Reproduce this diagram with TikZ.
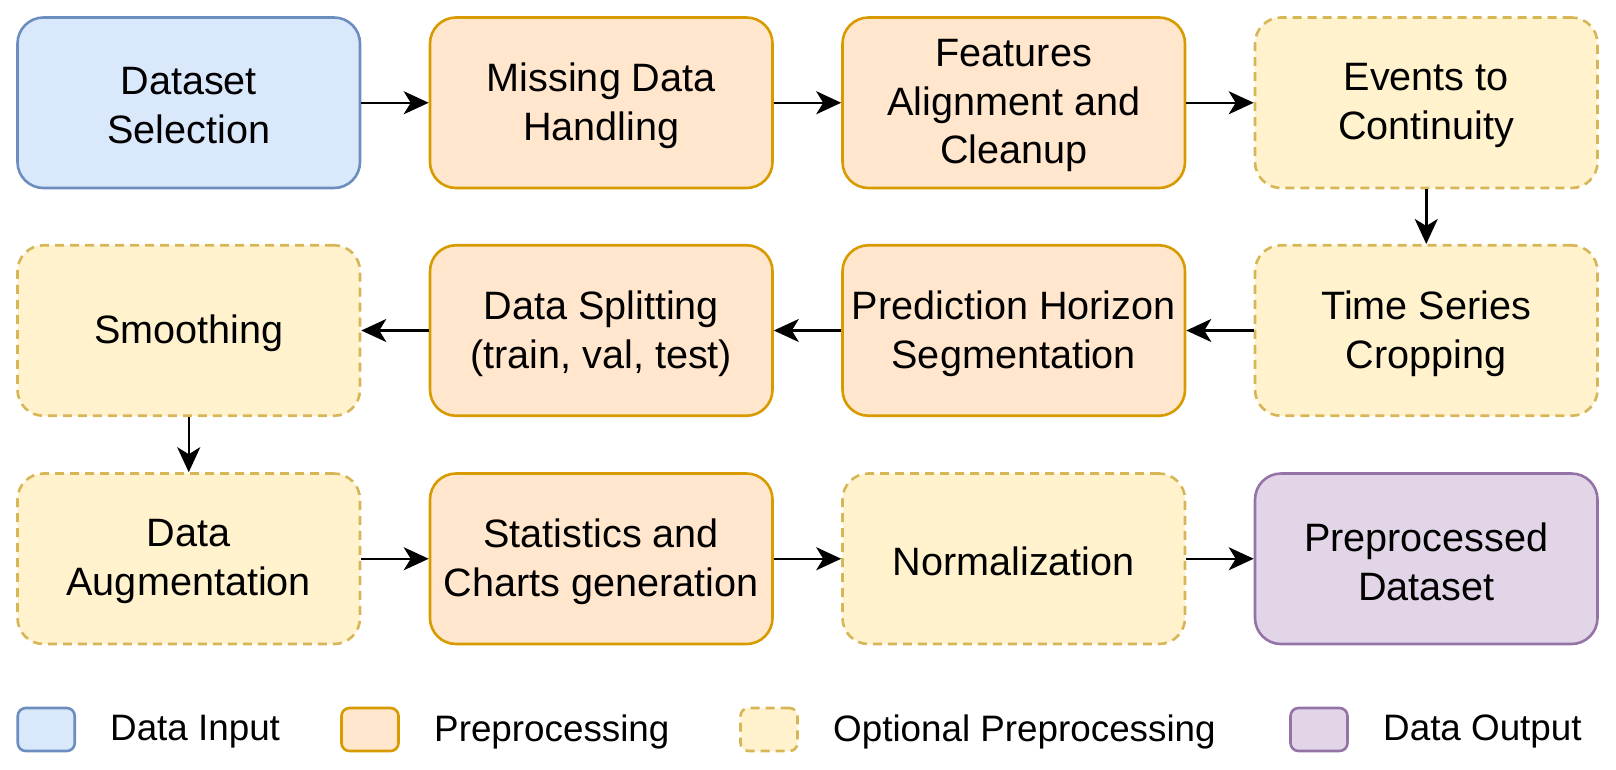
\documentclass[tikz,border=0pt]{standalone}
\usepackage{fontspec}
\setmainfont{Liberation Sans}
\usetikzlibrary{arrows.meta}
\definecolor{blueF}{HTML}{DAE8FC}\definecolor{blueD}{HTML}{6C8EBF}
\definecolor{orF}{HTML}{FFE6CC}\definecolor{orD}{HTML}{D79B00}
\definecolor{yeF}{HTML}{FFF2CC}\definecolor{yeD}{HTML}{D6B656}
\definecolor{puF}{HTML}{E1D5E7}\definecolor{puD}{HTML}{9673A6}
\tikzset{
  box/.style={rectangle, rounded corners=26pt, line width=2.6pt, minimum width=342.5pt, minimum height=170.5pt, inner sep=0pt},
  txt/.style={inner sep=0pt, align=center, font=\fontsize{39.6}{48.7}\selectfont},
  inbox/.style={box, fill=blueF, draw=blueD},
  prebox/.style={box, fill=orF, draw=orD},
  optbox/.style={box, fill=yeF, draw=yeD, dash pattern=on 9pt off 6pt},
  outbox/.style={box, fill=puF, draw=puD},
  legbox/.style={rectangle, rounded corners=8pt, line width=2.6pt, minimum width=57pt, minimum height=43pt, inner sep=0pt},
  legtext/.style={anchor=west, inner sep=0pt, font=\fontsize{36.8}{44}\selectfont},
  flow/.style={line width=2.5pt, -{Stealth[length=25pt, width=23pt, inset=7pt]}}
}
\begin{document}
\begin{tikzpicture}[x=1pt, y=-1pt]
\useasboundingbox (0,0) rectangle (1616,769);
% row 1
\node[inbox]  (ds)  at (188.75,102.75) {};
\node[prebox] (md)  at (601.25,102.75) {};
\node[prebox] (fa)  at (1013.75,102.75) {};
\node[optbox] (ev)  at (1426.25,102.75) {};
% row 2
\node[optbox] (sm)  at (188.75,330.5) {};
\node[prebox] (sp)  at (601.25,330.5) {};
\node[prebox] (ph)  at (1013.75,330.5) {};
\node[optbox] (tc)  at (1426.25,330.5) {};
% row 3
\node[optbox] (au)  at (188.75,558.75) {};
\node[prebox] (st)  at (601.25,558.75) {};
\node[optbox] (no)  at (1013.75,558.75) {};
\node[outbox] (pd)  at (1426.25,558.75) {};
% texts
\node[txt] (ds-t) at ([yshift=-3pt]ds.center) {Dataset\\Selection};
\node[txt] (md-t) at ([yshift=-3pt]md.center) {Missing Data\\Handling};
\node[txt] (fa-t) at ([yshift=-3pt]fa.center) {Features\\Alignment and\\Cleanup};
\node[txt] (ev-t) at ([yshift=-3pt]ev.center) {Events to\\Continuity};
\node[txt] (sm-t) at ([yshift=-3pt]sm.center) {Smoothing};
\node[txt] (sp-t) at ([yshift=-3pt]sp.center) {Data Splitting\\(train, val, test)};
\node[txt] (ph-t) at ([yshift=-3pt]ph.center) {Prediction Horizon\\Segmentation};
\node[txt] (tc-t) at ([yshift=-3pt]tc.center) {Time Series\\Cropping};
\node[txt] (au-t) at ([yshift=-3pt]au.center) {Data\\Augmentation};
\node[txt] (st-t) at ([yshift=-3pt]st.center) {Statistics and\\Charts generation};
\node[txt] (no-t) at ([yshift=-3pt]no.center) {Normalization};
\node[txt] (pd-t) at ([yshift=-3pt]pd.center) {Preprocessed\\Dataset};
% arrows
\draw[flow] (ds) -- (md);
\draw[flow] (md) -- (fa);
\draw[flow] (fa) -- (ev);
\draw[flow] (ev) -- (tc);
\draw[flow] (tc) -- (ph);
\draw[flow] (ph) -- (sp);
\draw[flow] (sp) -- (sm);
\draw[flow] (sm) -- (au);
\draw[flow] (au) -- (st);
\draw[flow] (st) -- (no);
\draw[flow] (no) -- (pd);
% legend
\node[legbox, fill=blueF, draw=blueD] (l1) at (46.25,729.5) {};
\node[legtext] (t1) at (110,731.5) {Data Input};
\node[legbox, fill=orF, draw=orD] (l2) at (370,729.5) {};
\node[legtext] (t2) at (434,731.5) {Preprocessing};
\node[legbox, fill=yeF, draw=yeD, dash pattern=on 9pt off 6pt] (l3) at (769,729.5) {};
\node[legtext] (t3) at (833,731.5) {Optional Preprocessing};
\node[legbox, fill=puF, draw=puD] (l4) at (1319,729.5) {};
\node[legtext] (t4) at (1383,731.5) {Data Output};
\end{tikzpicture}
\end{document}
